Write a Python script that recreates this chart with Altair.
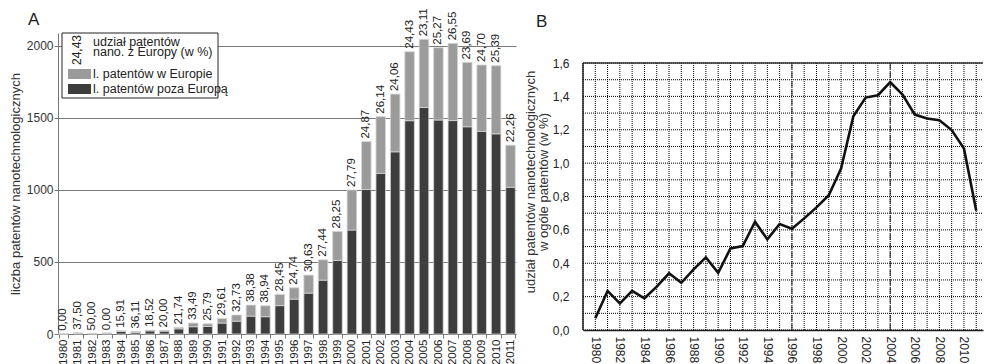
import altair as alt
import pandas as pd

FONT = "Liberation Sans"

years_a = ["1980", "1981", "1982", "1983", "1984", "1985", "1986", "1987", "1988", "1989",
           "1990", "1991", "1992", "1993", "1994", "1995", "1996", "1997", "1998", "1999",
           "2000", "2001", "2002", "2003", "2004", "2005", "2006", "2007", "2008", "2009",
           "2010", "2011"]
europe = [0, 3, 2, 0, 3.5, 6.5, 5, 5, 10, 25.5,
          18.3, 32, 43, 77, 76, 78, 79, 125, 141, 201,
          278, 332, 394, 401, 479, 473, 502, 536, 447, 461,
          473, 292]
outside = [1, 5, 2, 6, 18.5, 11.5, 22, 20, 36, 50.5,
           52.7, 76, 89, 124, 120, 197, 242, 284, 374, 511,
           722, 1004, 1115, 1265, 1481, 1573, 1486, 1482, 1439, 1407,
           1390, 1019]
share_labels = ["0,00", "37,50", "50,00", "0,00", "15,91", "36,11", "18,52", "20,00", "21,74", "33,49",
                "25,79", "29,61", "32,73", "38,38", "38,94", "28,45", "24,74", "30,63", "27,44", "28,25",
                "27,79", "24,87", "26,14", "24,06", "24,43", "23,11", "25,27", "26,55", "23,69", "24,70",
                "25,39", "22,26"]

years_b = [1980, 1981, 1982, 1983, 1984, 1985, 1986, 1987, 1988, 1989,
           1990, 1991, 1992, 1993, 1994, 1995, 1996, 1997, 1998, 1999,
           2000, 2001, 2002, 2003, 2004, 2005, 2006, 2007, 2008, 2009,
           2010, 2011]
share_b = [0.07, 0.234, 0.16, 0.235, 0.19, 0.26, 0.34, 0.283, 0.363, 0.435,
           0.343, 0.489, 0.503, 0.649, 0.543, 0.635, 0.607, 0.669, 0.735, 0.808,
           0.968, 1.281, 1.393, 1.407, 1.485, 1.411, 1.291, 1.268, 1.257, 1.198,
           1.088, 0.714]
grid_years = list(range(1979, 2012))
major_years = [1996, 2004]
y_ticks_b = [0.0, 0.1, 0.2, 0.3, 0.4, 0.5, 0.6, 0.7, 0.8, 0.9, 1.0, 1.1, 1.2, 1.3, 1.4, 1.5, 1.6]
y_labels_b = [0.0, 0.2, 0.4, 0.6, 0.8, 1.0, 1.2, 1.4, 1.6]
x_labels_b = [1980, 1982, 1984, 1986, 1988, 1990, 1992, 1994, 1996, 1998, 2000, 2002, 2004, 2006, 2008, 2010]
b_x_range = [1979, 2011.55]
b_y_top = 1.6
b_y_domain_top = 1.78

GROUP_OUT = "l. patentów poza Europą"
GROUP_EU = "l. patentów w Europie"
DARK = "#3d3d3d"
LIGHT = "#9b9b9b"

rows = []
for y, e, o in zip(years_a, europe, outside):
    rows.append({"year": y, "group": GROUP_OUT, "value": o, "ord": 0})
    rows.append({"year": y, "group": GROUP_EU, "value": e, "ord": 1})
df_long = pd.DataFrame(rows)
df_tot = pd.DataFrame({"year": years_a,
                       "total": [e + o for e, o in zip(europe, outside)],
                       "lab": share_labels})

WA, HA = 458, 301

xa_scale = alt.Scale(paddingInner=0.34, paddingOuter=0.05)
ya_scale = alt.Scale(domain=[0, 2090], nice=False)
xa_axis = alt.Axis(title=None, labelAngle=270, labelAlign="right", labelBaseline="middle",
                   tickBand="extent", tickSize=4, tickColor="#777", domainColor="#777",
                   labelFontSize=11.5, labelColor="#222", labelPadding=1, grid=False,
                   labelOverlap=False)
ya_axis = alt.Axis(title="liczba patentów nanotechnologicznych", values=[0, 500, 1000, 1500, 2000],
                   format="d",
                   grid=True, gridColor="#7a7a7a", gridWidth=1, domainColor="#777",
                   tickColor="#777", tickSize=4, labelFontSize=12, labelColor="#333",
                   labelPadding=1, labelOverlap=False, titleFontSize=13, titleFontWeight="normal",
                   titleColor="#333", titlePadding=4)

bars = alt.Chart(df_long).mark_bar(stroke="#d4d4d4", strokeWidth=0.8).encode(
    x=alt.X("year:N", sort=years_a, scale=xa_scale, axis=xa_axis),
    y=alt.Y("value:Q", stack="zero", scale=ya_scale, axis=ya_axis),
    color=alt.Color("group:N", scale=alt.Scale(domain=[GROUP_OUT, GROUP_EU], range=[DARK, LIGHT]), legend=None),
    order=alt.Order("ord:Q"),
)

labels = alt.Chart(df_tot).mark_text(angle=270, align="left", baseline="middle", dx=3,
                                     fontSize=11.5, color="#222").encode(
    x=alt.X("year:N", sort=years_a, scale=xa_scale, axis=xa_axis),
    y=alt.Y("total:Q", scale=ya_scale, axis=ya_axis),
    text="lab:N",
)

one = pd.DataFrame({"k": [0]})
# invisible anchor that fixes the top-left extent of the whole figure
anchor = alt.Chart(one).mark_rule(strokeOpacity=0, strokeWidth=0.5).encode(
    x=alt.value(-57.7), x2=alt.value(-57), y=alt.value(-32.7), y2=alt.value(-32))
leg_box = alt.Chart(one).mark_rect(fill="white", stroke="#222", strokeWidth=1).encode(
    x=alt.value(4), x2=alt.value(160), y=alt.value(0), y2=alt.value(65))
sw_light = alt.Chart(one).mark_rect(fill=LIGHT).encode(
    x=alt.value(10), x2=alt.value(33), y=alt.value(36), y2=alt.value(46))
sw_dark = alt.Chart(one).mark_rect(fill=DARK).encode(
    x=alt.value(10), x2=alt.value(33), y=alt.value(51), y2=alt.value(61))
leg_num = alt.Chart(one).mark_text(angle=270, align="center", baseline="middle",
                                   fontSize=12, color="#222").encode(
    x=alt.value(19), y=alt.value(17), text=alt.value("24,43"))
leg_t1 = alt.Chart(one).mark_text(align="left", baseline="middle", fontSize=12.5, color="#222").encode(
    x=alt.value(35), y=alt.value(9), text=alt.value("udział patentów"))
leg_t1b = alt.Chart(one).mark_text(align="left", baseline="middle", fontSize=12.5, color="#222").encode(
    x=alt.value(35), y=alt.value(19), text=alt.value("nano. z Europy (w %)"))
leg_t2 = alt.Chart(one).mark_text(align="left", baseline="middle", fontSize=12.5, color="#222").encode(
    x=alt.value(35), y=alt.value(41), text=alt.value(GROUP_EU))
leg_t3 = alt.Chart(one).mark_text(align="left", baseline="middle", fontSize=12.5, color="#222").encode(
    x=alt.value(35), y=alt.value(56), text=alt.value(GROUP_OUT))
lab_a = alt.Chart(one).mark_text(align="left", baseline="alphabetic", fontSize=17, color="#222").encode(
    x=alt.value(-30), y=alt.value(-8), text=alt.value("A"))

chart_a = alt.layer(bars, labels, anchor, leg_box, sw_light, sw_dark, leg_num, leg_t1, leg_t1b,
                    leg_t2, leg_t3, lab_a).properties(width=WA, height=HA)

# ---------------- Panel B ----------------
WB, HB = 400, 297
df_b = pd.DataFrame({"year": years_b, "share": share_b})
df_vgrid = pd.DataFrame({"year": grid_years, "y0": 0.0, "y1": b_y_top})
df_hgrid = pd.DataFrame({"v": y_ticks_b, "x0": b_x_range[0], "x1": b_x_range[1]})
df_major = pd.DataFrame({"year": major_years, "y0": 0.0, "y1": b_y_top})
df_top = pd.DataFrame({"x0": [b_x_range[0]], "x1": [b_x_range[1]], "y": [b_y_top]})
df_left = pd.DataFrame({"x": [b_x_range[0]], "y0": [0.0], "y1": [b_y_top]})

xb_scale = alt.Scale(domain=b_x_range, nice=False, zero=False)
yb_scale = alt.Scale(domain=[0, b_y_domain_top], nice=False)
xb_axis = alt.Axis(title=None, values=x_labels_b, format="d",
                   labelAngle=90, labelAlign="left", labelBaseline="middle",
                   labelFontSize=12, labelColor="#222", labelPadding=6, labelOverlap=False,
                   ticks=False, domainColor="#222", domainWidth=1.5, grid=False)
yb_axis = alt.Axis(title=["udział patentów nanotechnologicznych", "w ogóle patentów (w %)"],
                   values=y_labels_b,
                   labelExpr="replace(format(datum.value, '.1f'), '.', ',')",
                   labelFontSize=12, labelColor="#222", labelPadding=14, ticks=False,
                   labelOverlap=False, domain=False, grid=False,
                   titleFontSize=13, titleFontWeight="normal", titleColor="#333",
                   titlePadding=2, titleLineHeight=13)

line = alt.Chart(df_b).mark_line(color="#111", strokeWidth=2.6).encode(
    x=alt.X("year:Q", scale=xb_scale, axis=xb_axis),
    y=alt.Y("share:Q", scale=yb_scale, axis=yb_axis))
vgrid = alt.Chart(df_vgrid).mark_rule(color="#000", strokeDash=[1, 1], strokeWidth=1).encode(
    x=alt.X("year:Q", scale=xb_scale, axis=xb_axis),
    y=alt.Y("y0:Q", scale=yb_scale, axis=yb_axis), y2="y1:Q")
hgrid = alt.Chart(df_hgrid).mark_rule(color="#000", strokeDash=[1, 1], strokeWidth=1).encode(
    y=alt.Y("v:Q", scale=yb_scale, axis=yb_axis),
    x=alt.X("x0:Q", scale=xb_scale, axis=xb_axis), x2="x1:Q")
majors = alt.Chart(df_major).mark_rule(color="#222", strokeDash=[6, 3], strokeWidth=1).encode(
    x=alt.X("year:Q", scale=xb_scale, axis=xb_axis),
    y=alt.Y("y0:Q", scale=yb_scale, axis=yb_axis), y2="y1:Q")
top_frame = alt.Chart(df_top).mark_rule(color="#333", strokeWidth=1.5).encode(
    x=alt.X("x0:Q", scale=xb_scale, axis=xb_axis), x2="x1:Q",
    y=alt.Y("y:Q", scale=yb_scale, axis=yb_axis))
left_frame = alt.Chart(df_left).mark_rule(color="#222", strokeWidth=1.5).encode(
    x=alt.X("x:Q", scale=xb_scale, axis=xb_axis),
    y=alt.Y("y0:Q", scale=yb_scale, axis=yb_axis), y2="y1:Q")
lab_b = alt.Chart(one).mark_text(align="left", baseline="alphabetic", fontSize=17, color="#222").encode(
    x=alt.value(-47), y=alt.value(-6), text=alt.value("B"))

chart_b = alt.layer(vgrid, hgrid, majors, line, top_frame, left_frame, lab_b).properties(width=WB, height=HB)

chart = alt.hconcat(chart_a, chart_b, spacing=67, bounds="flush").properties(
    padding={"left": 0, "top": 0, "right": 0, "bottom": 0},
).configure(font=FONT).configure_view(strokeWidth=0)

chart.save("out.html", embed_options={"renderer": "svg", "actions": False})
